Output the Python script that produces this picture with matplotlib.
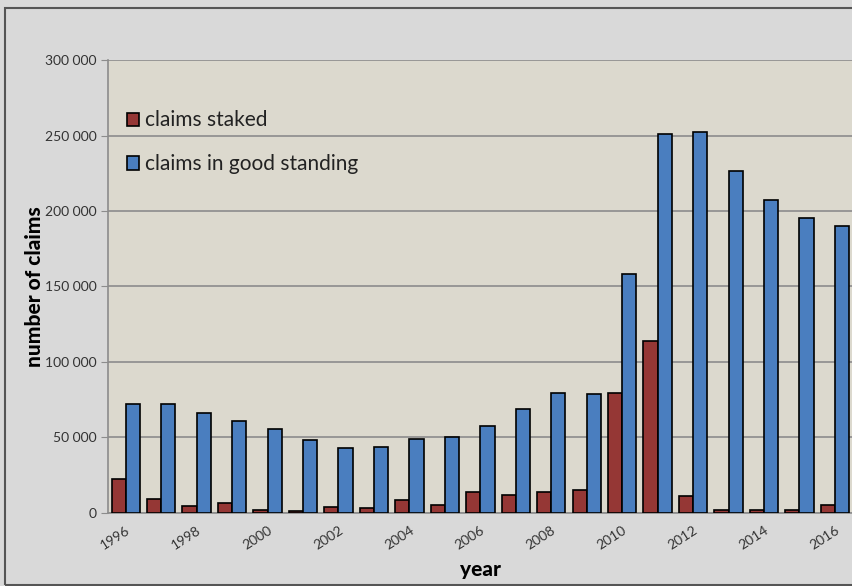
import numpy as np
import matplotlib.pyplot as plt
from matplotlib.ticker import FuncFormatter

years = list(range(1996, 2017))
staked = [22500, 9300, 4800, 6800, 2000, 1300, 3800, 3100, 8600, 5300, 13700,
          11700, 13700, 15400, 79700, 114000, 11500, 2200, 1800, 1800, 5300]
good_standing = [72000, 72400, 66000, 60700, 55800, 48500, 42800, 43700, 49000, 50100, 57600,
                 68700, 79500, 79000, 158300, 250700, 252500, 226200, 207300, 195100, 189800]
tick_years = [str(y) for y in years[::2]]

red = "#953735"
blue = "#4a7ebf"

fig = plt.figure(figsize=(8.53, 5.86), dpi=100, facecolor="#d9d9d9")
fig.patches.append(plt.Rectangle((0.006, 0.002), 1.1, 0.984, transform=fig.transFigure,
                                 fill=False, edgecolor="#555555", linewidth=1.5))
ax = fig.add_axes([0.1266, 0.1246, 0.873, 0.773])
ax.set_facecolor("#dcd9ce")

x = np.arange(len(years))
w = 0.4
ax.bar(x - w / 2, staked, w, color=red, edgecolor="black", linewidth=1.2, label="claims staked", zorder=3)
ax.bar(x + w / 2, good_standing, w, color=blue, edgecolor="black", linewidth=1.2,
       label="claims in good standing", zorder=3)

ax.set_xlim(-0.5, len(years) - 0.5)
ax.set_ylim(0, 300000)
ax.set_yticks(np.arange(0, 300001, 50000))
ax.yaxis.set_major_formatter(FuncFormatter(lambda v, p: "0" if v == 0 else f"{int(v):,}".replace(",", " ")))
ax.grid(axis="y", color="#8c8c8c", linewidth=1.2, zorder=0)
ax.set_axisbelow(True)

ax.set_xticks(x[::2])
ax.set_xticklabels(tick_years, rotation=33, ha="right", rotation_mode="anchor", fontsize=10,
                   family="Lato", color="#333333")
ax.tick_params(axis="x", length=0, pad=8)
ax.tick_params(axis="y", length=5, color="#8c8c8c", labelsize=10, labelcolor="#333333", pad=3)
for lab in ax.get_yticklabels():
    lab.set_family("Lato")

for s in ["top", "right"]:
    ax.spines[s].set_visible(False)
ax.spines["left"].set_color("#8c8c8c")
ax.spines["bottom"].set_color("#8c8c8c")
ax.spines["left"].set_linewidth(1.2)
ax.spines["bottom"].set_linewidth(1.2)

ax.set_ylabel("number of claims", fontsize=15, fontweight="black", family="Lato", labelpad=1)
ax.set_xlabel("year", fontsize=15, fontweight="black", family="Lato", labelpad=6)

leg = ax.legend(loc="upper left", bbox_to_anchor=(0.0, 0.93), frameon=False,
                prop={"family": "Lato", "size": 15}, handlelength=0.6, handleheight=0.6,
                handletextpad=0.3, labelspacing=1.15)
for t in leg.get_texts():
    t.set_color("#222222")

fig.savefig("out.png", dpi=100, facecolor=fig.get_facecolor())
